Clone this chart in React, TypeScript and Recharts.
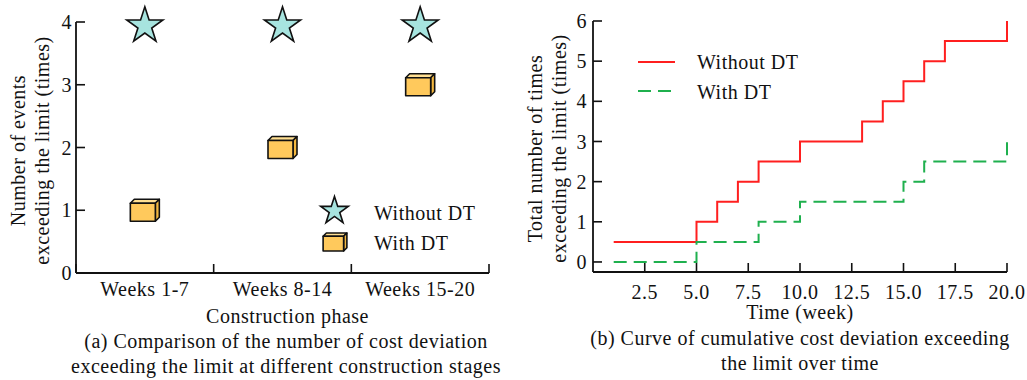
import React from 'react';
import { ScatterChart, Scatter, XAxis, YAxis, LineChart, Line, Legend, Label } from 'recharts';

const FONT = '"Liberation Serif", "Times New Roman", "DejaVu Serif", serif';
const INK = '#111';

// ---------- series names (legend order) ----------
const seriesNames = ['Without DT', 'With DT'];

// ---------- (a) data ----------
const phases = ['Weeks 1-7', 'Weeks 8-14', 'Weeks 15-20'];
const eventsWithoutDT = [4, 4, 4];
const eventsWithDT = [1, 2, 3];
const phaseYTicks = [0, 1, 2, 3, 4];
const phaseXTicks = [0, 0.5, 1, 1.5, 2, 2.5, 3];

// ---------- (b) data ----------
const weeksWithoutDT = [1, 5, 6, 7, 8, 10, 13, 14, 15, 16, 17, 20];
const cumWithoutDT = [0.5, 1, 1.5, 2, 2.5, 3, 3.5, 4, 4.5, 5, 5.5, 6];
const weeksWithDT = [1, 5, 8, 10, 15, 16, 20];
const cumWithDT = [0, 0.5, 1, 1.5, 2, 2.5, 3];
const timeTicks = [2.5, 5, 7.5, 10, 12.5, 15, 17.5, 20];
const cumYTicks = [0, 1, 2, 3, 4, 5, 6];

const scatterWithout = phases.map((p, i) => ({ x: i + 0.5, y: eventsWithoutDT[i], phase: p }));
const scatterWith = phases.map((p, i) => ({ x: i + 0.5, y: eventsWithDT[i], phase: p }));
const lineWithout = weeksWithoutDT.map((w, i) => ({ x: w, y: cumWithoutDT[i] }));
const lineWith = weeksWithDT.map((w, i) => ({ x: w, y: cumWithDT[i] }));

const RED = '#ff1f1f';
const GREEN = '#1fb04e';
const LS = 0.5;

function starPoints(cx: number, cy: number, R: number) {
  const r = R * 0.382;
  const pts: string[] = [];
  for (let i = 0; i < 10; i++) {
    const a = ((-90 + i * 36) * Math.PI) / 180;
    const rad = i % 2 === 0 ? R : r;
    pts.push(`${cx + rad * Math.cos(a)},${cy + rad * Math.sin(a)}`);
  }
  return pts.join(' ');
}

const Star = ({ cx, cy, R = 19 }: any) => (
  <polygon points={starPoints(cx, cy + R * 0.2, R)} fill="#a7e4df" stroke={INK} strokeWidth={1.6} />
);

const Cube = ({ cx, cy, s = 1 }: any) => {
  const w = 25 * s, h = 18 * s, d = 4 * s;
  const x0 = cx - (w + d) / 2;
  const y0 = cy - (h + d) / 2 + d;
  return (
    <g stroke={INK} strokeWidth={1.6} strokeLinejoin="round">
      <polygon points={`${x0},${y0} ${x0 + d},${y0 - d} ${x0 + w + d},${y0 - d} ${x0 + w},${y0}`} fill="#ffdf92" />
      <polygon points={`${x0 + w},${y0} ${x0 + w + d},${y0 - d} ${x0 + w + d},${y0 + h - d} ${x0 + w},${y0 + h}`} fill="#f4b840" />
      <rect x={x0} y={y0} width={w} height={h} fill="#ffc95c" />
    </g>
  );
};

const PhaseTick = (props: any) => {
  const { x, y, payload } = props;
  const v = payload.value as number;
  if (Number.isInteger(v)) {
    return <line x1={x} x2={x} y1={y} y2={y - 9} stroke={INK} strokeWidth={1.6} />;
  }
  return (
    <text x={x} y={y + 23} textAnchor="middle" fontSize={20} fontFamily={FONT} fill={INK} letterSpacing={LS}>
      {phases[Math.floor(v)]}
    </text>
  );
};

const ordered = (payload: any[]) =>
  [...(payload || [])].sort((a, b) => seriesNames.indexOf(a.value) - seriesNames.indexOf(b.value));

const LeftLegend = (props: any) => {
  const payload = ordered(props.payload);
  return (
    <svg width={170} height={64} style={{ overflow: 'visible', display: 'block' }}>
      {payload.map((p: any, i: number) => (
        <g key={i}>
          {p.value === seriesNames[0] ? (
            <Star cx={24.5} cy={15 + i * 30} R={14.5} />
          ) : (
            <Cube cx={25} cy={19 + i * 30} s={0.82} />
          )}
          <text x={64} y={26.7 + i * 30} fontSize={20} fontFamily={FONT} fill={INK} letterSpacing={LS}>
            {p.value}
          </text>
        </g>
      ))}
    </svg>
  );
};

const RightLegend = (props: any) => {
  const payload = ordered(props.payload);
  return (
    <svg width={200} height={70} style={{ overflow: 'visible', display: 'block' }}>
      {payload.map((p: any, i: number) => (
        <g key={i}>
          <line
            x1={0}
            x2={37}
            y1={22 + i * 29}
            y2={22 + i * 29}
            stroke={p.color}
            strokeWidth={2}
            strokeDasharray={p.value === seriesNames[1] ? '13 7' : undefined}
          />
          <text x={59} y={29 + i * 30} fontSize={20} fontFamily={FONT} fill={INK} letterSpacing={LS}>
            {p.value}
          </text>
        </g>
      ))}
    </svg>
  );
};

const yTitle = (lines: string[], dx: number, dyc: number) => (props: any) => {
  const vb = props.viewBox || { x: 0, y: 0, width: 0, height: 0 };
  const x = vb.x + dx;
  const cy = vb.y + vb.height / 2 + dyc;
  return (
    <text
      transform={`rotate(-90 ${x} ${cy})`}
      x={x}
      y={cy}
      textAnchor="middle"
      fontSize={20}
      fontFamily={FONT}
      fill={INK}
      letterSpacing={LS}
    >
      {lines.map((l, i) => (
        <tspan key={i} x={x} dy={i === 0 ? 0 : 24}>
          {l}
        </tspan>
      ))}
    </text>
  );
};

const xTitle = (text: string, dxc: number, dy: number) => (props: any) => {
  const vb = props.viewBox || { x: 0, y: 0, width: 0, height: 0 };
  return (
    <text
      x={vb.x + vb.width / 2 + dxc}
      y={vb.y + dy}
      textAnchor="middle"
      fontSize={20}
      fontFamily={FONT}
      fill={INK}
      letterSpacing={LS}
    >
      {text}
    </text>
  );
};

const axisLineStyle = { stroke: INK, strokeWidth: 1.8 };
const tickLineStyle = { stroke: INK, strokeWidth: 1.6 };
const tickText = { fontSize: 20, fill: INK, fontFamily: FONT, letterSpacing: LS };

export default function App() {
  return (
    <div
      style={{
        position: 'absolute',
        left: 0,
        top: 0,
        width: 1027,
        height: 380,
        overflow: 'hidden',
        background: '#fff',
        fontFamily: FONT,
      }}
    >
      <div style={{ position: 'absolute', left: 0, top: 0 }}>
        <ScatterChart width={510} height={380} margin={{ top: 22, right: 21, bottom: 0, left: 0 }}>
          <XAxis
            type="number"
            dataKey="x"
            domain={[0, 3]}
            ticks={phaseXTicks}
            interval={0}
            tickLine={false}
            tickSize={0}
            tickMargin={0}
            tick={<PhaseTick />}
            axisLine={axisLineStyle}
            height={107}
          >
            <Label content={xTitle('Construction phase', 5, 50)} />
          </XAxis>
          <YAxis
            type="number"
            dataKey="y"
            domain={[0, 4]}
            ticks={phaseYTicks}
            interval={0}
            width={76}
            tickSize={-9}
            tickMargin={13}
            axisLine={axisLineStyle}
            tickLine={tickLineStyle}
            tick={tickText}
          >
            <Label content={yTitle(['Number of events', 'exceeding the limit (times)'], 25, 3)} />
          </YAxis>
          <Scatter
            name={seriesNames[0]}
            data={scatterWithout}
            fill="#a7e4df"
            isAnimationActive={false}
            shape={(p: any) => <Star cx={p.cx} cy={p.cy} />}
          />
          <Scatter
            name={seriesNames[1]}
            data={scatterWith}
            fill="#ffc95c"
            isAnimationActive={false}
            shape={(p: any) => <Cube cx={p.cx} cy={p.cy} />}
          />
          <Legend
            layout="vertical"
            align="center"
            verticalAlign="middle"
            content={<LeftLegend />}
            wrapperStyle={{ left: 310, top: 193, width: 170, height: 64 }}
          />
        </ScatterChart>
      </div>

      <div style={{ position: 'absolute', left: 510, top: 0 }}>
        <LineChart width={517} height={380} margin={{ top: 21, right: 20, bottom: 0, left: 0 }}>
          <XAxis
            type="number"
            dataKey="x"
            domain={[0, 20]}
            ticks={timeTicks}
            interval={0}
            tickFormatter={(v: number) => v.toFixed(1)}
            tickSize={-9}
            tickMargin={22}
            axisLine={axisLineStyle}
            tickLine={tickLineStyle}
            tick={tickText}
            height={108}
          >
            <Label content={xTitle('Time (week)', 0, 47)} />
          </XAxis>
          <YAxis
            type="number"
            dataKey="y"
            domain={[-0.25, 6]}
            ticks={cumYTicks}
            interval={0}
            width={83}
            tickSize={-9}
            tickMargin={15}
            axisLine={axisLineStyle}
            tickLine={tickLineStyle}
            tick={tickText}
          >
            <Label content={yTitle(['Total number of times', 'exceeding the limit (times)'], 32, 2)} />
          </YAxis>
          <Line
            name={seriesNames[0]}
            data={lineWithout}
            dataKey="y"
            type="stepAfter"
            stroke={RED}
            strokeWidth={2}
            dot={false}
            isAnimationActive={false}
          />
          <Line
            name={seriesNames[1]}
            data={lineWith}
            dataKey="y"
            type="stepAfter"
            stroke={GREEN}
            strokeWidth={2}
            strokeDasharray="13 7"
            dot={false}
            isAnimationActive={false}
          />
          <Legend
            layout="vertical"
            align="center"
            verticalAlign="middle"
            content={<RightLegend />}
            wrapperStyle={{ left: 128, top: 40, width: 200, height: 70 }}
          />
        </LineChart>
      </div>

      <div
        style={{
          position: 'absolute',
          left: 36,
          top: 329,
          width: 500,
          textAlign: 'center',
          fontSize: 20,
          lineHeight: '25px',
          color: INK,
          whiteSpace: 'nowrap',
          letterSpacing: LS,
        }}
      >
        <div>(a) Comparison of the number of cost deviation</div>
        <div>exceeding the limit at different construction stages</div>
      </div>
      <div
        style={{
          position: 'absolute',
          left: 575,
          top: 326,
          width: 450,
          textAlign: 'center',
          fontSize: 20,
          lineHeight: '25px',
          color: INK,
          whiteSpace: 'nowrap',
          letterSpacing: LS,
        }}
      >
        <div>(b) Curve of cumulative cost deviation exceeding</div>
        <div>the limit over time</div>
      </div>
    </div>
  );
}
